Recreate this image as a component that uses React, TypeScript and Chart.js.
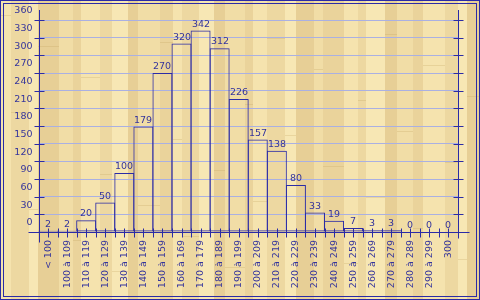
import { useEffect, useRef } from 'react';
import { Chart, registerables } from 'chart.js';

Chart.register(...registerables);

const categories = [
  '< 100', '100 à 109', '110 à 119', '120 à 129', '130 à 139', '140 à 149',
  '150 à 159', '160 à 169', '170 à 179', '180 à 189', '190 à 199', '200 à 209',
  '210 à 219', '220 à 229', '230 à 239', '240 à 249', '250 à 259', '260 à 269',
  '270 à 279', '280 à 289', '290 à 299', '300',
];
const counts = [2, 2, 20, 50, 100, 179, 270, 320, 342, 312, 226, 157, 138, 80, 33, 19, 7, 3, 3, 0, 0, 0];
const yMin = 0;
const yMax = 360;
const yStep = 30;

const BLUE = '#2b2ba6';
const TEXT = '#34349c';
const GRID = '#aab0e2';
const FONT = 'DejaVu Sans';
// decorative wood-plank background (widths in px, repeating shades)
const plankWidths = [11, 18, 9, 21, 14, 8, 19, 12, 16, 10, 22, 13, 9, 17, 15, 11, 20, 8, 14, 18];
const plankShades = ['#f5e3ae', '#ead39b', '#f1dda6', '#e7cf96', '#f7e7b4', '#edd8a1'];

const decor = {
  id: 'decor',
  beforeDraw(chart: any) {
    const { ctx, width, height } = chart;
    ctx.save();
    ctx.fillStyle = '#efdba4';
    ctx.fillRect(0, 0, width, height);
    let x = 0;
    let k = 0;
    while (x < width) {
      const w = plankWidths[k % plankWidths.length];
      ctx.fillStyle = plankShades[(k * 5) % plankShades.length];
      ctx.fillRect(x, 0, w, height);
      // a joint per plank
      const jy = ((k * 97) % 260) + 15;
      ctx.fillStyle = 'rgba(190,160,90,0.25)';
      ctx.fillRect(x, jy, w, 1);
      x += w;
      k++;
    }
    ctx.restore();
  },
  afterDatasetsDraw(chart: any) {
    const { ctx, width, height, chartArea } = chart;
    const xs = chart.scales.x;
    const ys = chart.scales.y;
    const L = Math.round(chartArea.left) + 0.5;
    const R = Math.round(chartArea.right) + 0.5;
    const B = Math.round(ys.getPixelForValue(0)) + 0.5;
    const T = Math.round(ys.getPixelForValue(yMax));
    ctx.save();
    ctx.strokeStyle = BLUE;
    ctx.lineWidth = 1;
    ctx.beginPath();
    ctx.moveTo(L, T - 10); ctx.lineTo(L, B + 10);
    ctx.moveTo(R, T - 10); ctx.lineTo(R, B + 6);
    ctx.moveTo(L - 11, B); ctx.lineTo(R + 11, B);
    for (let v = yMin; v <= yMax; v += yStep) {
      const py = Math.round(ys.getPixelForValue(v)) + 0.5;
      ctx.moveTo(L - 5, py); ctx.lineTo(L + 5, py);
      ctx.moveTo(R - 5, py); ctx.lineTo(R + 5, py);
    }
    const half = (xs.getPixelForValue(1) - xs.getPixelForValue(0)) / 2;
    for (let i = 0; i < categories.length; i++) {
      const c = xs.getPixelForValue(i);
      for (const p of [c, c + half]) {
        const px = Math.round(p) + 0.5;
        if (Math.abs(px - R) < 1) continue;
        ctx.moveTo(px, B - 4); ctx.lineTo(px, B + 5);
      }
    }
    ctx.stroke();

    const meta = chart.getDatasetMeta(0);
    ctx.fillStyle = TEXT;
    ctx.font = `9.5px "${FONT}"`;
    ctx.textAlign = 'center';
    ctx.textBaseline = 'alphabetic';
    meta.data.forEach((bar: any, i: number) => {
      ctx.fillText(String(counts[i]), Math.round(bar.x), Math.round(bar.y) - 4);
    });

    ctx.strokeStyle = BLUE;
    ctx.strokeRect(0.5, 0.5, width - 1, height - 1);
    ctx.strokeRect(3.5, 3.5, width - 7, height - 7);
    ctx.restore();
  },
};

export default function App() {
  const ref = useRef<HTMLCanvasElement>(null);
  useEffect(() => {
    document.body.style.margin = '0';
    const chart = new Chart(ref.current!, {
      type: 'bar',
      data: {
        labels: categories,
        datasets: [
          {
            data: counts,
            backgroundColor: 'rgba(0,0,0,0)',
            borderColor: BLUE,
            borderWidth: 1,
            borderSkipped: false,
            inflateAmount: 0,
            barThickness: 20,
          } as any,
        ],
      },
      options: {
        animation: false,
        responsive: false,
        devicePixelRatio: 1,
        layout: { padding: { left: 0, right: 22, top: 20, bottom: 0 } },
        plugins: { legend: { display: false }, tooltip: { enabled: false } },
        scales: {
          x: {
            grid: { display: false },
            border: { display: false },
            afterFit: (s: any) => { s.height = 68; },
            ticks: {
              color: TEXT,
              font: { family: FONT, size: 9.5 },
              minRotation: 90,
              maxRotation: 90,
              autoSkip: false,
              padding: 0,
            },
          },
          y: {
            min: yMin,
            max: yMax,
            afterFit: (s: any) => { s.width = 38.5; },
            grid: { color: GRID, drawTicks: false, lineWidth: 1 },
            border: { display: false },
            ticks: {
              stepSize: yStep,
              color: TEXT,
              font: { family: FONT, size: 9.5 },
              padding: 6,
              labelOffset: -9,
            },
          },
        },
      },
      plugins: [decor],
    });
    return () => chart.destroy();
  }, []);
  return (
    <div style={{ width: 480, height: 300 }}>
      <canvas ref={ref} width={480} height={300} />
    </div>
  );
}
